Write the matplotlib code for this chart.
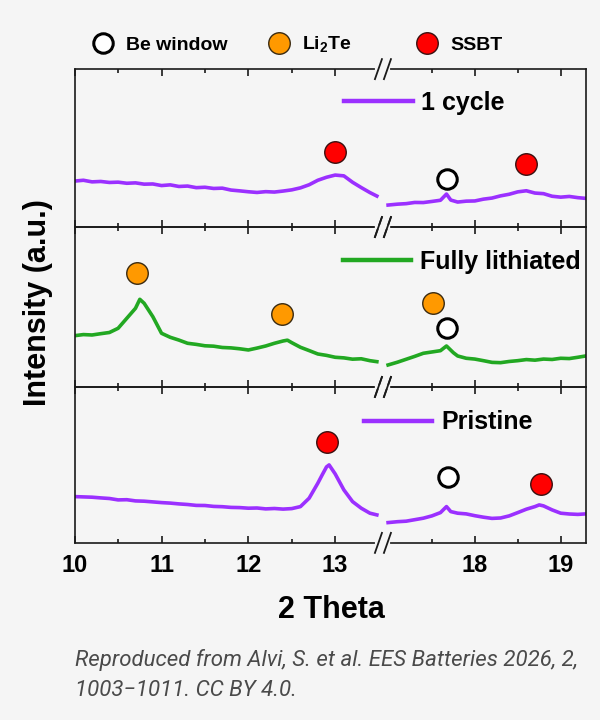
import matplotlib
matplotlib.use('Agg')
import matplotlib.pyplot as plt
from matplotlib.lines import Line2D

# ---- data (2 theta in degrees, intensity in a.u.) ----
# 1 cycle
x_cyc_l = [10.0, 10.1, 10.2, 10.3, 10.4, 10.5, 10.6, 10.7, 10.8, 10.9, 11.0, 11.1,
           11.2, 11.3, 11.4, 11.5, 11.6, 11.7, 11.8, 11.9, 12.0, 12.1, 12.2, 12.3,
           12.4, 12.5, 12.6, 12.7, 12.8, 12.9, 13.0, 13.1, 13.2, 13.3, 13.4, 13.48]
y_cyc_l = [46.0, 46.8, 45.2, 45.6, 44.6, 44.9, 43.8, 44.2, 42.9, 43.1, 41.5, 42.2,
           40.6, 41.0, 39.4, 39.8, 38.6, 38.9, 37.0, 36.2, 35.3, 34.6, 35.4, 35.0,
           36.0, 37.2, 39.2, 42.3, 46.8, 49.8, 52.0, 51.2, 44.8, 39.5, 34.5, 31.0]
x_cyc_r = [16.99, 17.1, 17.2, 17.3, 17.4, 17.5, 17.6, 17.67, 17.72, 17.8, 17.9, 18.0,
           18.1, 18.2, 18.3, 18.4, 18.5, 18.6, 18.7, 18.8, 18.9, 19.0, 19.1, 19.2, 19.29]
y_cyc_r = [22.0, 22.9, 23.4, 24.6, 24.5, 25.6, 26.8, 33.0, 27.0, 25.0, 25.9, 26.1,
           27.9, 29.0, 31.2, 32.8, 35.2, 36.3, 34.0, 33.4, 30.8, 29.9, 30.6, 29.4, 28.7]

# fully lithiated
x_lith_l = [10.0, 10.1, 10.2, 10.3, 10.4, 10.5, 10.6, 10.7, 10.75, 10.8, 10.9, 11.0,
            11.1, 11.2, 11.3, 11.4, 11.5, 11.6, 11.7, 11.8, 11.9, 12.0, 12.1, 12.2,
            12.3, 12.4, 12.45, 12.5, 12.6, 12.7, 12.8, 12.9, 13.0, 13.1, 13.2, 13.3,
            13.4, 13.48]
y_lith_l = [51.3, 52.4, 52.0, 53.3, 54.5, 58.7, 68.7, 78.7, 87.7, 83.7, 70.3, 53.7,
            49.7, 46.9, 43.7, 42.6, 41.2, 40.8, 39.5, 39.1, 38.2, 37.0, 38.9, 41.0,
            43.7, 46.0, 46.8, 44.3, 39.7, 36.4, 33.0, 31.6, 29.7, 29.1, 27.8, 28.2,
            26.3, 25.3]
x_lith_r = [16.99, 17.1, 17.2, 17.3, 17.4, 17.5, 17.6, 17.67, 17.75, 17.8, 17.9, 18.0,
            18.1, 18.2, 18.3, 18.4, 18.5, 18.6, 18.7, 18.8, 18.9, 19.0, 19.1, 19.2, 19.29]
y_lith_r = [22.0, 24.8, 27.7, 30.6, 33.7, 35.0, 36.3, 41.0, 34.3, 31.0, 28.7, 27.9,
            26.3, 24.6, 24.3, 25.5, 26.3, 27.4, 26.8, 27.9, 27.5, 28.7, 28.4, 29.7, 31.0]

# pristine
x_pri_l = [10.0, 10.1, 10.2, 10.3, 10.4, 10.5, 10.6, 10.7, 10.8, 10.9, 11.0, 11.1,
           11.2, 11.3, 11.4, 11.5, 11.6, 11.7, 11.8, 11.9, 12.0, 12.1, 12.2, 12.3,
           12.4, 12.5, 12.6, 12.7, 12.8, 12.85, 12.9, 12.93, 13.0, 13.1, 13.2, 13.3,
           13.4, 13.48]
y_pri_l = [46.3, 46.0, 45.7, 45.0, 44.4, 43.0, 43.2, 42.0, 41.7, 41.0, 40.3, 39.8,
           39.0, 38.4, 37.5, 37.4, 36.5, 36.2, 35.5, 35.3, 34.7, 34.9, 34.0, 34.4,
           33.8, 34.3, 36.3, 44.7, 59.7, 68.0, 76.0, 78.0, 69.0, 53.0, 41.3, 34.7,
           29.7, 28.0]
x_pri_r = [16.99, 17.1, 17.2, 17.3, 17.4, 17.5, 17.6, 17.67, 17.72, 17.8, 17.9, 18.0,
           18.1, 18.2, 18.3, 18.4, 18.5, 18.6, 18.7, 18.75, 18.8, 18.9, 19.0, 19.1,
           19.2, 19.29]
y_pri_r = [20.3, 21.2, 21.7, 23.2, 24.7, 27.0, 30.3, 36.3, 31.3, 29.7, 29.0, 27.2,
           25.7, 24.5, 24.9, 27.0, 30.3, 33.7, 36.3, 38.0, 37.0, 33.0, 29.7, 28.9,
           28.5, 29.0]

# phase markers: (2 theta, height)
cyc_ssbt = [(13.0, 75.0), (18.6, 62.7)]
cyc_be = [(17.68, 47.7)]
lith_li2te = [(10.72, 113.7), (12.39, 73.0), (17.51, 83.7)]
lith_be = [(17.68, 58.7)]
pri_ssbt = [(12.91, 100.7), (18.77, 58.7)]
pri_be = [(17.69, 65.7)]

purple = '#9b30ff'
green = '#22a822'
orange = '#ff9900'
red = '#ff0000'
bg = '#f5f5f5'

plt.rcParams['font.family'] = ['Liberation Sans', 'DejaVu Sans']
plt.rcParams['font.weight'] = 'bold'
plt.rcParams['mathtext.fontset'] = 'custom'
plt.rcParams['mathtext.rm'] = 'Liberation Sans:bold'
plt.rcParams['mathtext.bf'] = 'Liberation Sans:bold'
plt.rcParams['xtick.direction'] = 'in'

fig = plt.figure(figsize=(6, 7.2), dpi=100, facecolor=bg)
gs = fig.add_gridspec(3, 2, left=0.1245, right=0.976, top=0.904, bottom=0.246,
                      width_ratios=[308.3, 202.7], height_ratios=[158, 160, 156],
                      hspace=0, wspace=0)

rows = [
    (x_cyc_l, y_cyc_l, x_cyc_r, y_cyc_r, purple, '1 cycle', 158,
     {'be': cyc_be, 'ssbt': cyc_ssbt}, (0.573, 0.857)),
    (x_lith_l, y_lith_l, x_lith_r, y_lith_r, green, 'Fully lithiated', 160,
     {'be': lith_be, 'li': lith_li2te}, (0.571, 0.636)),
    (x_pri_l, y_pri_l, x_pri_r, y_pri_r, purple, 'Pristine', 156,
     {'be': pri_be, 'ssbt': pri_ssbt}, (0.606, 0.4135)),
]

mstyle = {
    'be': dict(marker='o', ms=14, mfc='white', mec='black', mew=2.2),
    'li': dict(marker='o', ms=15.5, mfc=orange, mec='#3a2a10', mew=1.0),
    'ssbt': dict(marker='o', ms=15.5, mfc=red, mec='#3a1010', mew=1.0),
}

for i, (xl, yl, xr, yr, col, lab, h, marks, legpos) in enumerate(rows):
    axl = fig.add_subplot(gs[i, 0])
    axr = fig.add_subplot(gs[i, 1])
    for ax in (axl, axr):
        ax.set_facecolor('none')
        ax.set_ylim(0, h)
        ax.set_yticks([])
        for s in ax.spines.values():
            s.set_linewidth(1.2)
            s.set_color('#1a1a1a')
        ax.tick_params(axis='x', which='both', top=True, bottom=True, width=1.2,
                       color='#1a1a1a', labelsize=17, pad=8, labelbottom=(i == 2))
        ax.tick_params(axis='x', which='major', length=5)
        ax.tick_params(axis='x', which='minor', length=3)
    axl.spines['right'].set_visible(False)
    axr.spines['left'].set_visible(False)
    axl.set_xlim(10, 13.55)
    axr.set_xlim(16.93, 19.29)
    axl.set_xticks([10, 11, 12, 13])
    axl.set_xticks([10.5, 11.5, 12.5], minor=True)
    axr.set_xticks([18, 19])
    axr.set_xticks([17.5, 18.5], minor=True)

    line, = axl.plot(xl, yl, color=col, lw=2.6, label=lab)
    axr.plot(xr, yr, color=col, lw=2.6)

    for key, pts in marks.items():
        for (mx, my) in pts:
            target = axl if mx < 15 else axr
            target.plot([mx], [my], linestyle='none', **mstyle[key])

    leg = axl.legend(handles=[line], loc='center left', bbox_to_anchor=legpos,
                     bbox_transform=fig.transFigure, frameon=False, fontsize=18,
                     handlelength=2.75, handletextpad=0.35, borderpad=0,
                     borderaxespad=0)
    for lh in leg.get_lines():
        lh.set_linewidth(3.2)

    # break marks
    pos = axl.get_position()
    xb = pos.x1
    dx, dy = 3.5 / 600, 10 / 720
    gap = 4.5 / 600
    for yb in (pos.y0, pos.y1):
        fig.add_artist(Line2D([xb - gap - 1 / 600, xb + gap + 1 / 600], [yb, yb],
                              color=bg, lw=3, transform=fig.transFigure))
        for off in (-gap, gap):
            fig.add_artist(Line2D([xb + off - dx, xb + off + dx], [yb - dy, yb + dy],
                                  color='#1a1a1a', lw=1.3, transform=fig.transFigure))

# top legend, one entry at a time
top_entries = [('be', 'Be window', 0.155), ('li', 'Li$_2$Te', 0.448),
               ('ssbt', 'SSBT', 0.695)]
for key, text, xpos in top_entries:
    h = Line2D([], [], linestyle='none', **mstyle[key])
    fig.legend([h], [text], loc='center left', bbox_to_anchor=(xpos, 0.9375),
               frameon=False, fontsize=14, handlelength=1.0, handletextpad=0.7,
               borderpad=0, borderaxespad=0)

fig.text(0.552, 1 - 610 / 720, '2 Theta', ha='center', va='center', fontsize=22)
fig.text(0.064, 0.58, 'Intensity (a.u.)', ha='center', va='center', fontsize=22,
         rotation=90)

cap_font = dict(family=['Roboto', 'DejaVu Sans'], style='italic', weight='normal',
                fontsize=16, color='#4a4a4a', ha='left', va='center')
fig.text(0.1245, 1 - 660 / 720, 'Reproduced from Alvi, S. et al. EES Batteries 2026, 2,',
         **cap_font)
fig.text(0.1245, 1 - 690 / 720, '1003\u22121011. CC BY 4.0.', **cap_font)

plt.savefig('out.png', dpi=100, facecolor=bg)
plt.close()
